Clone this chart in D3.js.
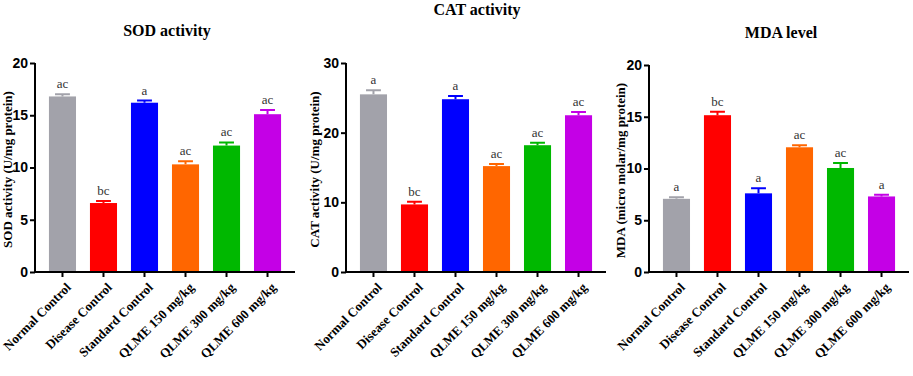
<!DOCTYPE html>
<html>
<head>
<meta charset="utf-8">
<script src="https://cdn.jsdelivr.net/npm/d3@7.9.0/dist/d3.min.js"></script>
<style>
  body { margin: 0; background: #fff; }
  svg { display: block; }
</style>
</head>
<body>
<div id="chart"></div>
<script>
// Groups shared by all three panels
const groups = ["Normal Control", "Disease Control", "Standard Control",
                "QLME 150 mg/kg", "QLME 300 mg/kg", "QLME 600 mg/kg"];
const barColors = ["#a2a2aa", "#ff0000", "#0000ff", "#ff6600", "#00b800", "#c400e6"];

// SOD activity (U/mg protein)
const sodMean = [16.8, 6.6, 16.2, 10.3, 12.1, 15.1];
const sodErr = [0.2, 0.2, 0.2, 0.3, 0.3, 0.4];
const sodLetters = ["ac", "bc", "a", "ac", "ac", "ac"];
const sodTicks = [0, 5, 10, 15, 20];

// CAT activity (U/mg protein)
const catMean = [25.5, 9.7, 24.8, 15.2, 18.2, 22.5];
const catErr = [0.6, 0.4, 0.45, 0.3, 0.35, 0.45];
const catLetters = ["a", "bc", "a", "ac", "ac", "ac"];
const catTicks = [0, 10, 20, 30];

// MDA (micro molar/mg protein)
const mdaMean = [7.07, 15.15, 7.6, 12.05, 10.05, 7.3];
const mdaErr = [0.16, 0.33, 0.48, 0.2, 0.48, 0.17];
const mdaLetters = ["a", "bc", "a", "ac", "ac", "a"];
const mdaTicks = [0, 5, 10, 15, 20];

const W = 913, H = 376;
const serif = "'Liberation Serif', 'Times New Roman', serif";
const sans = "'Liberation Sans', Arial, sans-serif";

const svg = d3.select("#chart").append("svg")
    .attr("width", W)
    .attr("height", H);

const panels = [
  {title: "SOD activity", yLabel: "SOD activity (U/mg protein)",
   mean: sodMean, err: sodErr, letters: sodLetters, ticks: sodTicks, max: 20,
   x0: 35, yTop: 63, titleX: 167, titleY: 36, labelX: 12},
  {title: "CAT activity", yLabel: "CAT activity (U/mg protein)",
   mean: catMean, err: catErr, letters: catLetters, ticks: catTicks, max: 30,
   x0: 346, yTop: 63, titleX: 477, titleY: 15, labelX: 319},
  {title: "MDA level", yLabel: "MDA (micro molar/mg protein)",
   mean: mdaMean, err: mdaErr, letters: mdaLetters, ticks: mdaTicks, max: 20,
   x0: 649, yTop: 65, titleX: 781, titleY: 38, labelX: 625}
];

const yBase = 272;
const color = d3.scaleOrdinal().domain(groups).range(barColors);

panels.forEach(p => {
  const g = svg.append("g");

  const x = d3.scaleBand()
      .domain(groups)
      .range([p.x0, p.x0 + 260])
      .padding(0.34);

  const y = d3.scaleLinear()
      .domain([0, p.max])
      .range([yBase, p.yTop]);

  const rows = groups.map((name, i) => ({
    name, mean: p.mean[i], err: p.err[i], letter: p.letters[i]
  }));

  // bars
  g.selectAll("rect.bar")
    .data(rows)
    .join("rect")
    .attr("class", "bar")
    .attr("x", d => x(d.name))
    .attr("y", d => y(d.mean))
    .attr("width", x.bandwidth())
    .attr("height", d => y(0) - y(d.mean))
    .attr("fill", d => color(d.name));

  // error bars (upper only)
  const cap = x.bandwidth() * 0.55;
  g.selectAll("path.err")
    .data(rows)
    .join("path")
    .attr("class", "err")
    .attr("fill", "none")
    .attr("stroke", d => color(d.name))
    .attr("stroke-width", 2)
    .attr("d", d => {
      const cx = x(d.name) + x.bandwidth() / 2;
      return `M${cx},${y(d.mean)}V${y(d.mean + d.err)}` +
             `M${cx - cap / 2},${y(d.mean + d.err)}H${cx + cap / 2}`;
    });

  // significance letters
  g.selectAll("text.letter")
    .data(rows)
    .join("text")
    .attr("class", "letter")
    .attr("x", d => x(d.name) + x.bandwidth() / 2)
    .attr("y", d => y(d.mean + d.err) - 6)
    .attr("text-anchor", "middle")
    .attr("font-family", serif)
    .attr("font-size", 13)
    .attr("fill", "#333")
    .text(d => d.letter);

  // y axis
  const yAxis = g.append("g")
    .attr("transform", `translate(${p.x0},0)`)
    .call(d3.axisLeft(y).tickValues(p.ticks).tickSize(5).tickPadding(2).tickSizeOuter(0));
  yAxis.select(".domain").attr("stroke", "#000").attr("stroke-width", 2)
    .attr("d", `M0,${yBase + 1}V${p.yTop}`);
  yAxis.selectAll(".tick line").attr("stroke-width", 2);
  yAxis.selectAll(".tick text")
    .attr("font-family", sans)
    .attr("font-weight", "bold")
    .attr("font-size", 14)
    .attr("fill", "#000");

  // x axis
  const xAxis = g.append("g")
    .attr("transform", `translate(0,${yBase})`)
    .call(d3.axisBottom(x).tickSize(5).tickSizeOuter(0));
  xAxis.select(".domain").attr("stroke", "#000").attr("stroke-width", 2)
    .attr("d", `M${p.x0 - 1},0H${p.x0 + 260}`);
  xAxis.selectAll(".tick line").attr("stroke-width", 2);
  xAxis.selectAll(".tick text")
    .attr("font-family", serif)
    .attr("font-weight", "bold")
    .attr("font-size", 13)
    .attr("fill", "#000")
    .attr("text-anchor", "end")
    .attr("transform", "translate(6,13) rotate(-45)")
    .attr("x", 0)
    .attr("y", 0)
    .attr("dy", "0.35em");

  // y axis label
  g.append("text")
    .attr("transform", `translate(${p.labelX},${(yBase + p.yTop) / 2 + 2}) rotate(-90)`)
    .attr("text-anchor", "middle")
    .attr("font-family", serif)
    .attr("font-weight", "bold")
    .attr("font-size", 13)
    .text(p.yLabel);

  // title
  g.append("text")
    .attr("x", p.titleX)
    .attr("y", p.titleY)
    .attr("text-anchor", "middle")
    .attr("font-family", serif)
    .attr("font-weight", "bold")
    .attr("font-size", 16)
    .text(p.title);
});
</script>
</body>
</html>
